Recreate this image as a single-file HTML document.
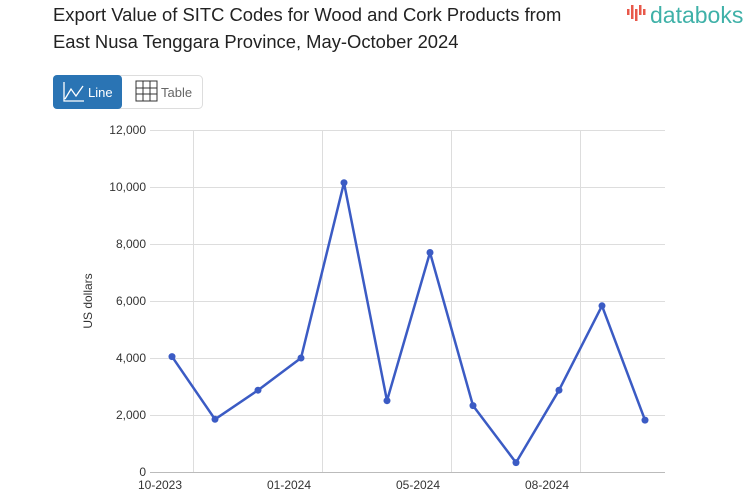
<!DOCTYPE html>
<html><head><meta charset="utf-8"><style>
body{margin:0;width:753px;height:498px;background:#fff;font-family:"Liberation Sans",sans-serif;overflow:hidden}
</style></head><body>
<svg width="753" height="498" xmlns="http://www.w3.org/2000/svg" font-family="Liberation Sans, sans-serif">
<text x="53" y="21" font-size="18.4" fill="#222">Export Value of SITC Codes for Wood and Cork Products from</text>
<text x="53" y="48" font-size="18.4" fill="#222">East Nusa Tenggara Province, May-October 2024</text>
<g fill="#e8584a"><rect x="627" y="9" width="2.5" height="6"/><rect x="631" y="5" width="2.5" height="14"/><rect x="635" y="9" width="2.5" height="12"/><rect x="639" y="5" width="2.5" height="10"/><rect x="643" y="9" width="2.5" height="6"/></g>
<text x="650" y="23" font-size="23" fill="#3fb1a8">databoks</text>
<rect x="53.5" y="75.5" width="149" height="33" rx="4" fill="#fff" stroke="#ddd"/>
<rect x="53" y="75" width="69" height="34" rx="4" fill="#2a74b4"/>
<path d="M64 82 V101 H84 M65 99 L71 89 L76 96 L83 86" stroke="#fff" stroke-width="1.3" fill="none"/>
<text x="88" y="97" font-size="13" fill="#fff">Line</text>
<g stroke="#333" stroke-width="1" fill="none"><rect x="136" y="81" width="21" height="20"/><path d="M143 81V101M150 81V101M136 88H157M136 94H157"/></g>
<text x="161" y="97" font-size="13" fill="#666">Table</text>
<g stroke="#ddd" stroke-width="1">
<line x1="150" y1="130.5" x2="665" y2="130.5"/><line x1="150" y1="187.5" x2="665" y2="187.5"/><line x1="150" y1="244.5" x2="665" y2="244.5"/><line x1="150" y1="301.5" x2="665" y2="301.5"/><line x1="150" y1="358.5" x2="665" y2="358.5"/><line x1="150" y1="415.5" x2="665" y2="415.5"/>
<line x1="193.5" y1="130" x2="193.5" y2="472"/><line x1="322.5" y1="130" x2="322.5" y2="472"/><line x1="451.5" y1="130" x2="451.5" y2="472"/><line x1="580.5" y1="130" x2="580.5" y2="472"/>
</g>
<line x1="150" y1="472.5" x2="665" y2="472.5" stroke="#bbb"/>
<g font-size="12" fill="#333" text-anchor="end">
<text x="146" y="134">12,000</text><text x="146" y="191">10,000</text><text x="146" y="248">8,000</text><text x="146" y="305">6,000</text><text x="146" y="362">4,000</text><text x="146" y="419">2,000</text><text x="146" y="476">0</text>
</g>
<g font-size="12" fill="#333" text-anchor="middle">
<text x="160" y="489">10-2023</text><text x="289" y="489">01-2024</text><text x="418" y="489">05-2024</text><text x="547" y="489">08-2024</text>
</g>
<text transform="translate(92,301) rotate(-90)" font-size="12" fill="#333" text-anchor="middle">US dollars</text>
<polyline fill="none" stroke="#3b5bc4" stroke-width="2.5" stroke-linejoin="round" points="172,356.6 215,419.3 258,390.2 301,358 344,182.7 387,400.7 430,252.5 473,405.6 516,462.6 559,390.2 602,305.8 645,420.1"/>
<g fill="#3b5bc4">
<circle cx="172" cy="356.6" r="3.5"/><circle cx="215" cy="419.3" r="3.5"/><circle cx="258" cy="390.2" r="3.5"/><circle cx="301" cy="358" r="3.5"/><circle cx="344" cy="182.7" r="3.5"/><circle cx="387" cy="400.7" r="3.5"/><circle cx="430" cy="252.5" r="3.5"/><circle cx="473" cy="405.6" r="3.5"/><circle cx="516" cy="462.6" r="3.5"/><circle cx="559" cy="390.2" r="3.5"/><circle cx="602" cy="305.8" r="3.5"/><circle cx="645" cy="420.1" r="3.5"/>
</g>
</svg>
</body></html>
